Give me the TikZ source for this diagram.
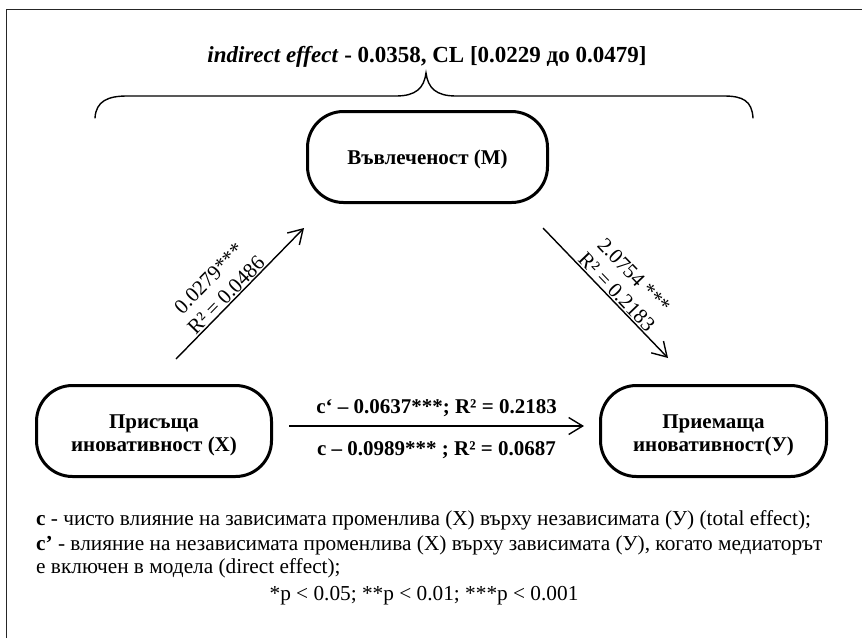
\documentclass[tikz,border=0pt]{standalone}
\usepackage{fontspec}
\setmainfont{Liberation Serif}
\usetikzlibrary{arrows.meta}
\begin{document}
\begin{tikzpicture}[x=1pt,y=-1pt,
  frameline/.style={line width=1.3pt, draw=black!85},
  bracepath/.style={line width=1.4pt, line cap=round},
  box/.style={draw, line width=3pt, rounded corners=36pt, minimum height=91pt,
    align=center, inner sep=0pt, outer sep=0pt,
    font=\fontsize{21}{23}\selectfont\bfseries},
  arr/.style={line width=1.4pt, -{Straight Barb[length=14pt,width=17pt]}},
  slbl/.style={font=\fontsize{21}{24}\selectfont, align=center, inner sep=1pt},
  hlbl/.style={font=\fontsize{21}{23}\selectfont\bfseries, inner sep=0pt, anchor=base},
  foot/.style={font=\fontsize{21.3}{24}\selectfont, inner sep=0pt}
]
\useasboundingbox (0,0) rectangle (862,638);
\draw[frameline] (6.5,638) -- (6.5,9.5) -- (862,9.5);

% title
\node[anchor=base, inner sep=0pt, font=\fontsize{23}{26}\selectfont\bfseries] (title) at (427,62)
  {\textit{indirect effect} - 0.0358, CL [0.0229 до 0.0479]};

% brace
\draw[bracepath] (95,118) .. controls (96,101) and (108,96) .. (127,96)
  -- (396,96) .. controls (416,96) and (424,88) .. (426,73)
  .. controls (428,88) and (436,96) .. (456,96)
  -- (724,96) .. controls (743,96) and (752,101) .. (753,118);

% nodes
\node[box, minimum width=240pt] (M) at (427.5,157) {\rule{0pt}{20pt}Въвлеченост (M)};
\node[box, minimum width=235pt] (X) at (154,431) {\rule{0pt}{23pt}Присъща\\иновативност (X)};
\node[box, minimum width=226pt] (Y) at (713.5,431) {\rule{0pt}{23pt}Приемаща\\иновативност(У)};

% arrow end points
\coordinate (a1s) at (176,359);
\coordinate (a1e) at (304,228);
\coordinate (a2s) at (543,228);
\coordinate (a2e) at (668,358);
\coordinate (hs) at (289,426);
\coordinate (he) at (584,426);

\draw[arr] (a1s) -- node[slbl, sloped, above, pos=0.44] {0.0279***\\R² = 0.0486} (a1e);
\draw[arr] (a2s) -- node[slbl, sloped, above, pos=0.54] {2.0754 ***\\R² = 0.2183} (a2e);
\draw[arr] (hs) -- node[hlbl, yshift=13pt] {c‘ – 0.0637***; R² = 0.2183}
                   node[hlbl, yshift=-29pt] {c – 0.0989*** ; R² = 0.0687} (he);

% footer
\node[foot, anchor=base west] (f1) at (36,525) {\textbf{c} - чисто влияние на зависимата променлива (X) върху независимата (У) (total effect);};
\node[foot, anchor=base west] (f2) at (36,550) {\textbf{c’} - влияние на независимата променлива (X) върху зависимата (У), когато медиаторът};
\node[foot, anchor=base west] (f3) at (36,573) {е включен в модела (direct effect);};
\node[foot, anchor=base] (f4) at (424,600) {*p < 0.05; **p < 0.01; ***p < 0.001};
\end{tikzpicture}
\end{document}
